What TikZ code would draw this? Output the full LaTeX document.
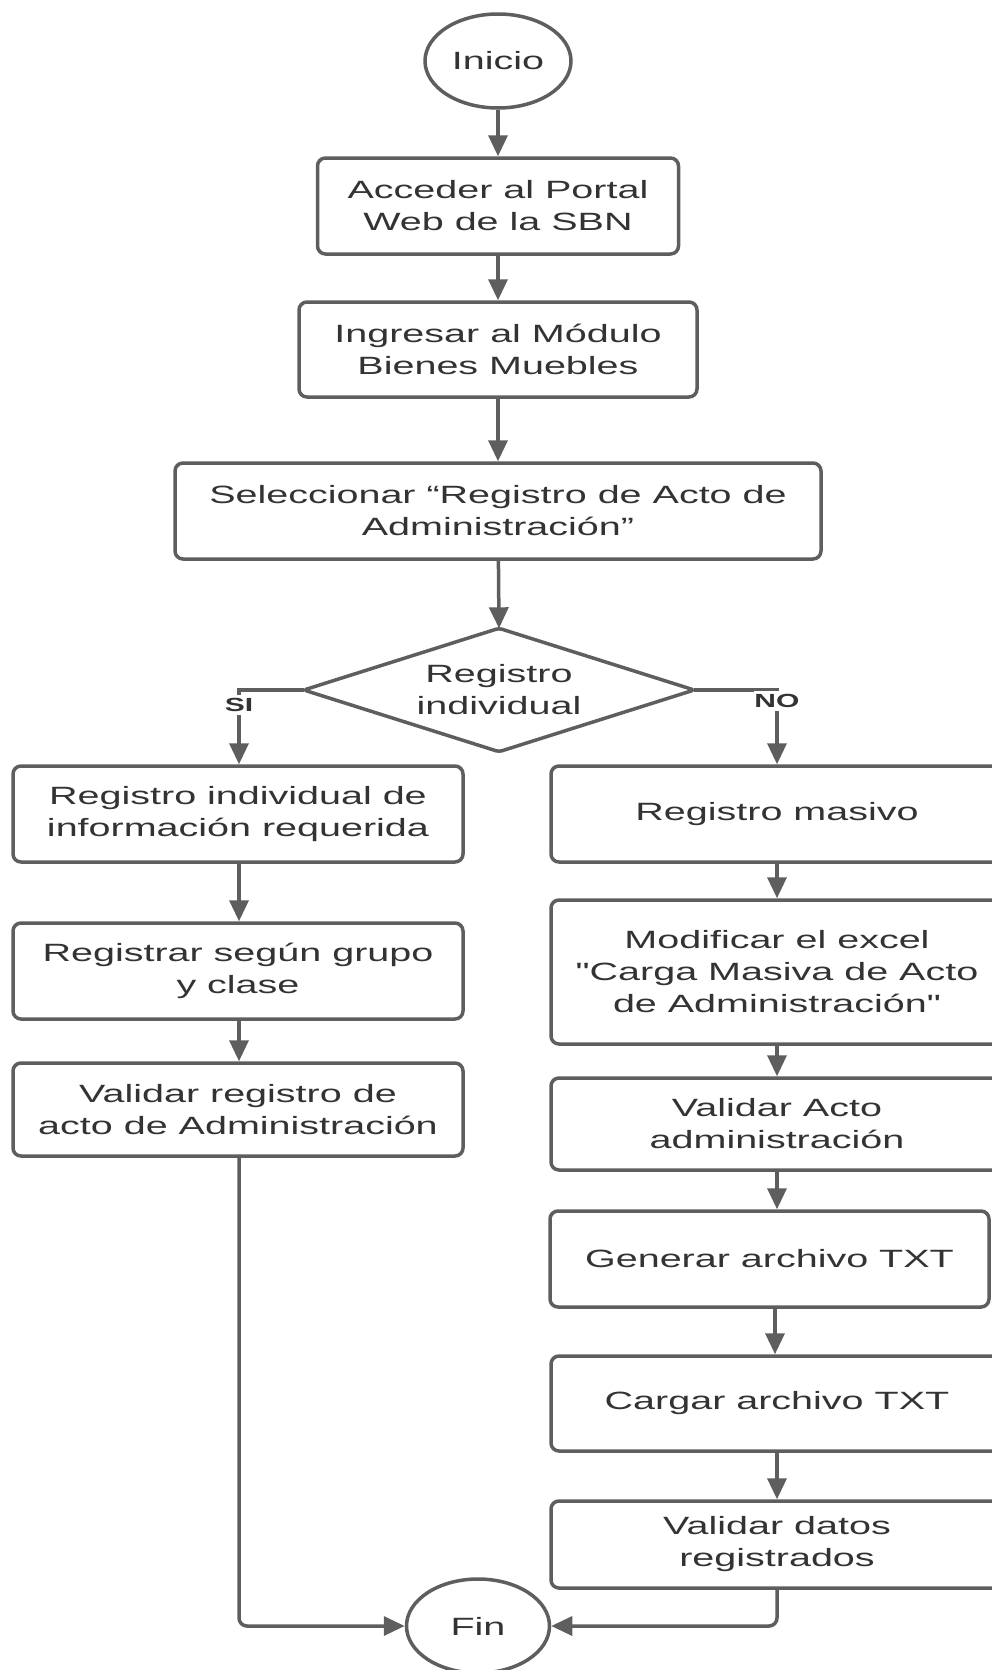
\documentclass[tikz,border=0pt]{standalone}
\usepackage{fontspec}
\setmainfont{Liberation Sans}[FakeStretch=1.58,Ligatures=TeXOff]
\usetikzlibrary{shapes.geometric,arrows.meta,positioning}
\definecolor{linegray}{HTML}{5E5E5E}
\definecolor{textgray}{HTML}{333333}
\begin{document}
\begin{tikzpicture}[x=1pt,y=-1pt,
  every node/.style={text=textgray,font=\fontsize{25}{32}\selectfont},
  stepbox/.style={draw=linegray,line width=3.5pt,rounded corners=8pt,
    fill=white,align=center,inner sep=0pt},
  termnode/.style={draw=linegray,line width=3.5pt,ellipse,fill=white,
    inner sep=0pt},
  decide/.style={align=center,inner sep=0pt},
  outline/.style={draw=linegray,line width=3.5pt,rounded corners=3pt},
  flow/.style={draw=linegray,line width=3.5pt,
    -{Triangle[length=21pt,width=19pt]},rounded corners=8pt},
  branch/.style={fill=white,inner sep=0pt,minimum height=20pt,
    font=\fontsize{19}{22}\selectfont\bfseries}]
\useasboundingbox (0,0) rectangle (992,1670);

% main column
\node[termnode,minimum width=146pt,minimum height=94pt] (inicio) at (498,61) {Inicio};
\node[stepbox,minimum width=361pt,minimum height=96pt] (b1) at (498,206)
  {Acceder al Portal\\Web de la SBN};
\node[stepbox,minimum width=398pt,minimum height=95pt] (b2) at (498,349.5)
  {Ingresar al Módulo\\Bienes Muebles};
\node[stepbox,minimum width=646pt,minimum height=96pt] (b3) at (498,511)
  {Seleccionar “Registro de Acto de\\Administración”};

% decision: rhombus drawn through the corners of its text box
\node[decide,minimum width=390pt,minimum height=123pt] (dec) at (499,690)
  {Registro\\individual};
\draw[outline] (dec.north) -- (dec.east) -- (dec.south) -- (dec.west) -- cycle;

% individual branch
\node[stepbox,minimum width=450pt,minimum height=96pt] (l1) at (238,814)
  {Registro individual de\\información requerida};
\node[stepbox,minimum width=450pt,minimum height=96pt] (l2) at (238,971)
  {Registrar según grupo\\y clase};
\node[stepbox,minimum width=450pt,minimum height=93pt] (l3) at (238,1109.5)
  {Validar registro de\\acto de Administración};

% bulk branch
\node[stepbox,minimum width=452pt,minimum height=96pt] (r1) at (777,814)
  {Registro masivo};
\node[stepbox,minimum width=452pt,minimum height=144pt] (r2) at (777,972)
  {Modificar el excel\\"Carga Masiva de Acto\\de Administración"};
\node[stepbox,minimum width=452pt,minimum height=92pt] (r3) at (777,1124)
  {Validar Acto\\administración};
\node[stepbox,minimum width=439pt,minimum height=96pt] (r4) at (769.5,1259)
  {Generar archivo TXT};
\node[stepbox,minimum width=452pt,minimum height=95pt] (r5) at (777,1403.5)
  {Cargar archivo TXT};
\node[stepbox,minimum width=452pt,minimum height=87pt] (r6) at (777,1544.5)
  {Validar datos\\registrados};

\node[termnode,minimum width=143pt,minimum height=94pt] (fin) at (478,1626) {Fin};

% connectors
\draw[flow] (inicio) -- (b1);
\draw[flow] (b1) -- (b2);
\draw[flow] (b2) -- (b3);
\draw[flow] (b3) -- (dec.north);

\coordinate (siturn) at (239,690);
\coordinate (noturn) at (777,690);
\draw[flow,rounded corners=0pt] (dec.west) -- (siturn) -- (l1.north -| siturn);
\draw[flow,rounded corners=0pt] (dec.east) -- (noturn) -- (r1.north);
\node[branch] (si) at (239,705) {SI};
\node[branch] (no) at (777,701) {NO};

\draw[flow] (l1.south -| siturn) -- (l2.north -| siturn);
\draw[flow] (l2.south -| siturn) -- (l3.north -| siturn);
\draw[flow] (r1) -- (r2);
\draw[flow] (r2) -- (r3);
\draw[flow] (r3.south) -- (r3.south |- r4.north);
\draw[flow] (r4.south -| 775,0) -- (r5.north -| 775,0);
\draw[flow] (r5) -- (r6);

\draw[flow] (l3.south -| siturn) |- (fin.west);
\draw[flow] (r6.south) |- (fin.east);
\end{tikzpicture}
\end{document}
